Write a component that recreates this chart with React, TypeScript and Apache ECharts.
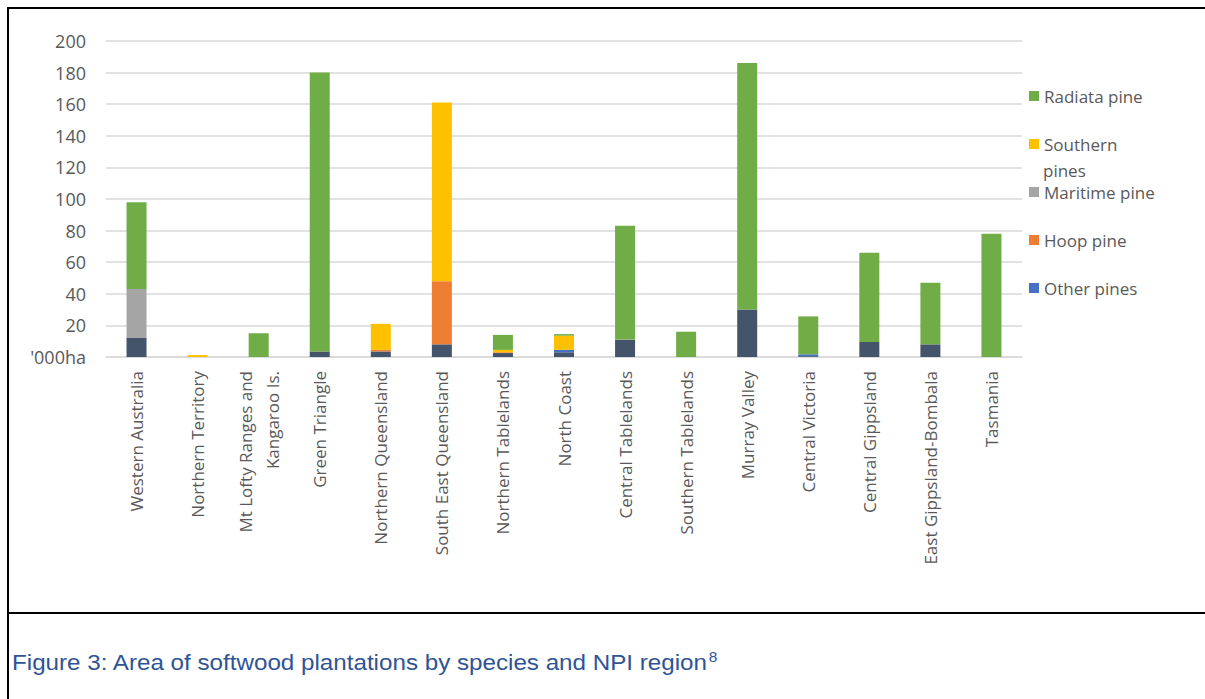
import React, { useEffect, useRef } from "react";
import * as echarts from "echarts";

const categories = [
  "Western Australia",
  "Northern Territory",
  "Mt Lofty Ranges and\nKangaroo Is.",
  "Green Triangle",
  "Northern Queensland",
  "South East Queensland",
  "Northern Tablelands",
  "North Coast",
  "Central Tablelands",
  "Southern Tablelands",
  "Murray Valley",
  "Central Victoria",
  "Central Gippsland",
  "East Gippsland-Bombala",
  "Tasmania",
];

// bottom segment (dark slate, not listed in legend)
const unlisted = [12, 0, 0, 3.5, 3.5, 8, 2.5, 3, 11, 0, 30, 0.5, 9.5, 8, 0];
const otherPines = [0, 0, 0, 0, 0, 0, 0, 1.5, 0, 0, 0, 1.2, 0, 0, 0];
const hoopPine = [0, 0, 0, 0, 1, 40, 0.5, 0, 0, 0, 0, 0, 0, 0, 0];
const maritimePine = [31, 0, 0, 0, 0, 0, 0, 0, 0, 0, 0, 0, 0, 0, 0];
const southernPines = [0, 1.2, 0, 0, 16.5, 113, 1.5, 9, 0, 0, 0, 0, 0, 0, 0];
const radiataPine = [55, 0, 15, 176.5, 0, 0, 9.5, 1, 72, 16, 156, 24, 56.5, 39, 78];

const yTicks = { min: 0, max: 200, interval: 20 };

const legendNames = ["Radiata pine", "Southern pines", "Maritime pine", "Hoop pine", "Other pines"];

const colors = {
  radiata: "#70AD47",
  southern: "#FFC000",
  maritime: "#A5A5A5",
  hoop: "#ED7D31",
  other: "#4472C4",
  unlisted: "#44546A",
};

const FONT = "'Open Sans', 'Noto Sans', sans-serif";
const CAPTION_FONT = "'Liberation Sans', Arial, sans-serif";

export default function App() {
  const ref = useRef<HTMLDivElement>(null);

  useEffect(() => {
    if (!ref.current) return;
    const chart = echarts.init(ref.current, undefined, { renderer: "svg" });

    const mk = (name: string, data: number[], color: string) => ({
      name,
      type: "bar",
      stack: "total",
      data,
      barWidth: 20,
      itemStyle: { color },
      emphasis: { disabled: true },
    });

    const legendTops = [97, 145, 193, 241, 289];
    const legends = legendNames.map((n, i) => ({
      data: [n],
      orient: "vertical",
      left: 1024,
      top: legendTops[i] - 16,
      icon: "rect",
      itemWidth: 10,
      itemHeight: 10,
      selectedMode: false,
      formatter: (name: string) => (name === "Southern pines" ? "Southern" : name),
      textStyle: { fontFamily: FONT, fontSize: 17, color: "#595959", lineHeight: 20 },
    }));

    chart.setOption({
      animation: false,
      legend: legends,
      grid: { left: 106, right: 183, top: 41, bottom: 342, containLabel: false },
      xAxis: {
        type: "category",
        data: categories,
        axisLine: { show: true, lineStyle: { color: "#D9D9D9", width: 1.5 } },
        axisTick: { show: false },
        axisLabel: {
          interval: 0,
          rotate: 90,
          margin: 14,
          fontFamily: FONT,
          fontSize: 17,
          lineHeight: 27,
          color: "#595959",
        },
      },
      yAxis: {
        type: "value",
        min: yTicks.min,
        max: yTicks.max,
        interval: yTicks.interval,
        axisLine: { show: false },
        axisTick: { show: false },
        splitLine: { lineStyle: { color: "#D9D9D9", width: 1.5 } },
        axisLabel: {
          margin: 20,
          fontFamily: FONT,
          fontSize: 18,
          color: "#595959",
          formatter: (v: number) => (v === 0 ? "'000ha" : String(v)),
        },
      },
      series: [
        mk("Unlisted", unlisted, colors.unlisted),
        mk("Other pines", otherPines, colors.other),
        mk("Hoop pine", hoopPine, colors.hoop),
        mk("Maritime pine", maritimePine, colors.maritime),
        mk("Southern pines", southernPines, colors.southern),
        mk("Radiata pine", radiataPine, colors.radiata),
      ],
      graphic: [
        {
          type: "text",
          left: 1043,
          top: 162,
          style: { text: "pines", fontFamily: FONT, fontSize: 17, fill: "#595959" },
        },
        {
          type: "text",
          x: 12,
          y: 650,
          scaleX: 1.1,
          style: {
            text: "Figure 3: Area of softwood plantations by species and NPI region{sup|8}",
            fontFamily: CAPTION_FONT,
            fontSize: 22,
            fill: "#2F5496",
            lineHeight: 24,
            rich: {
              sup: {
                fontFamily: CAPTION_FONT,
                fontSize: 14,
                fill: "#2F5496",
                verticalAlign: "top",
                lineHeight: 14,
              },
            },
          },
        },
        { type: "line", shape: { x1: 8, y1: 7, x2: 8, y2: 699 }, style: { stroke: "#000", lineWidth: 2 } },
        { type: "line", shape: { x1: 7, y1: 8, x2: 1205, y2: 8 }, style: { stroke: "#000", lineWidth: 2 } },
        { type: "line", shape: { x1: 8, y1: 613, x2: 1205, y2: 613 }, style: { stroke: "#000", lineWidth: 2 } },
      ],
    });

    return () => chart.dispose();
  }, []);

  return (
    <div
      ref={ref}
      style={{ position: "absolute", left: 0, top: 0, width: 1205, height: 699, background: "#fff" }}
    />
  );
}
